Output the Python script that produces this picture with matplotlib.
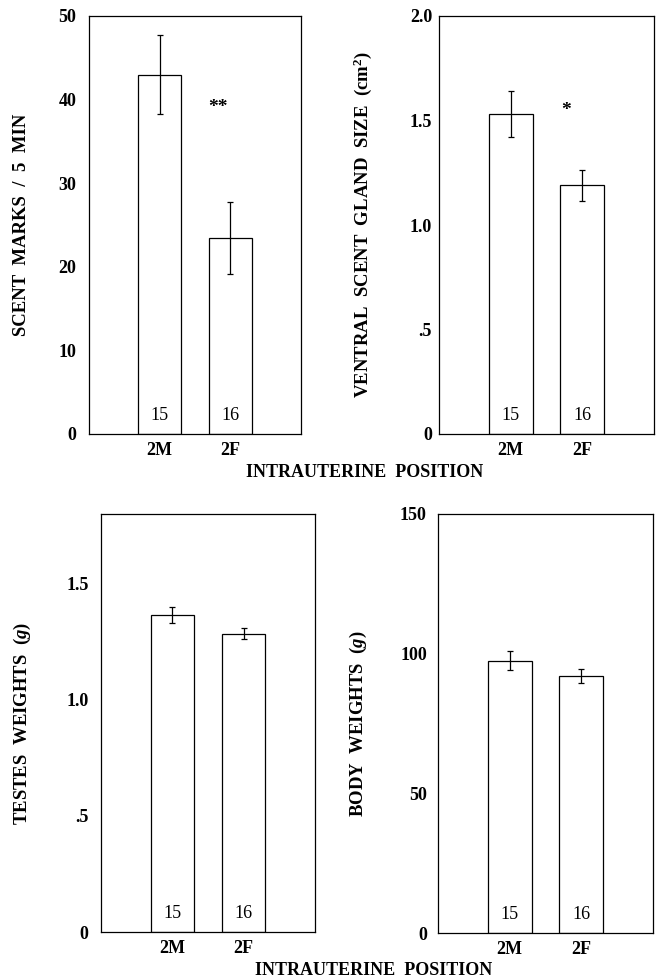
import matplotlib
matplotlib.use("Agg")
import matplotlib.pyplot as plt

groups = ["2M", "2F"]
n_labels = ["15", "16"]

scent_marks = [43.0, 23.4]
scent_marks_err = [4.7, 4.3]

gland_size = [1.53, 1.19]
gland_size_err = [0.11, 0.075]

testes = [1.365, 1.285]
testes_err = [0.035, 0.025]

body = [97.5, 92.0]
body_err = [3.3, 2.6]

plt.rcParams['font.family'] = ['Liberation Serif', 'DejaVu Serif']
plt.rcParams['font.weight'] = 'bold'
plt.rcParams['mathtext.fontset'] = 'custom'
plt.rcParams['mathtext.rm'] = 'Liberation Serif:bold'
plt.rcParams['mathtext.it'] = 'Liberation Serif:italic:bold'

W, H = 658, 980
fig = plt.figure(figsize=(W / 100, H / 100), dpi=100)


def panel(px, values, errs, ylim, yticks, yticklabels, ylabel, label_x,
          ypad, star=None):
    # px = (left, top, right, bottom) in pixels
    l, t, r, b = px
    ax = fig.add_axes([l / W, 1 - b / H, (r - l) / W, (b - t) / H])
    x = [1, 2]
    ax.bar(x, values, width=0.61, color='white', edgecolor='black', linewidth=0.9)
    ax.errorbar(x, values, yerr=errs, fmt='none', ecolor='black',
                elinewidth=0.9, capsize=2.2, capthick=0.9)
    for xi, lab in zip(x, n_labels):
        ax.text(xi, 0.045, lab, transform=ax.get_xaxis_transform(),
                ha='center', va='center', fontsize=13, fontweight='normal')
    if star is not None:
        ax.text(star[0], star[1], star[2], ha='center', va='center',
                fontsize=14)
    ax.set_xlim(0, 3)
    ax.set_ylim(0, ylim)
    ax.set_xticks(x)
    ax.set_xticklabels(groups, fontsize=13)
    ax.set_yticks(yticks)
    ax.set_yticklabels(yticklabels, fontsize=13)
    ax.tick_params(axis='x', length=0, pad=6)
    ax.tick_params(axis='y', length=0, pad=ypad)
    for s in ax.spines.values():
        s.set_linewidth(0.9)
    fig.text(label_x / W, 1 - (t + b) / 2 / H, ylabel, rotation=90,
             ha='center', va='center', fontsize=13.5)
    return ax


panel((89, 16, 301, 434), scent_marks, scent_marks_err, 50,
      [0, 10, 20, 30, 40, 50], ['0', '10', '20', '30', '40', '50'],
      'SCENT  MARKS  /  5  MIN', 22, 9, star=(1.83, 39, '**'))
panel((439, 16, 654, 434), gland_size, gland_size_err, 2.0,
      [0, 0.5, 1.0, 1.5, 2.0], ['0', '.5', '1.0', '1.5', '2.0'],
      r'VENTRAL  SCENT  GLAND  SIZE  (cm$^2$)', 363, 5,
      star=(1.77, 1.55, '*'))
panel((101, 514, 315, 932), testes, testes_err, 1.8,
      [0, 0.5, 1.0, 1.5], ['0', '.5', '1.0', '1.5'],
      r'TESTES  WEIGHTS  ($\mathit{g}$)', 22, 9)
panel((438, 514, 653, 933), body, body_err, 150,
      [0, 50, 100, 150], ['0', '50', '100', '150'],
      r'BODY  WEIGHTS  ($\mathit{g}$)', 358, 8)

fig.text(365 / W, 1 - 472 / H, 'INTRAUTERINE  POSITION', ha='center',
         va='center', fontsize=13)
fig.text(374 / W, 1 - 970 / H, 'INTRAUTERINE  POSITION', ha='center',
         va='center', fontsize=13)

fig.savefig('out.png', dpi=100)
